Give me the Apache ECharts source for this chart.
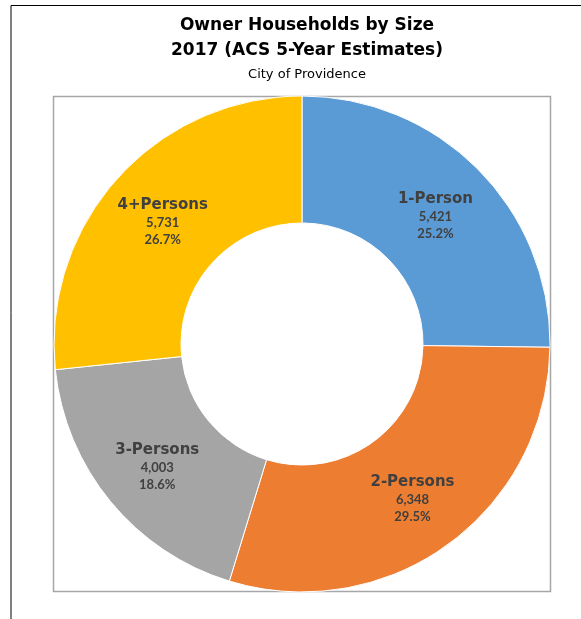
<!DOCTYPE html>
<html>
<head>
<meta charset="utf-8">
<style>
  html, body { margin: 0; padding: 0; background: #fff; }
  #chart { width: 581px; height: 619px; }
</style>
<script src="https://cdn.jsdelivr.net/npm/echarts@6/dist/echarts.min.js"></script>
</head>
<body>
<div id="chart"></div>
<script>
// Owner households by size, City of Providence (ACS 2017 5-year)
const categories = ['1-Person', '2-Persons', '3-Persons', '4+Persons'];
const households = [5421, 6348, 4003, 5731];
const sliceColors = ['#5B9BD5', '#ED7D31', '#A5A5A5', '#FFC000'];

const titleText = 'Owner Households by Size\n2017 (ACS 5-Year Estimates)';
const subtitleText = 'City of Providence';

const HEAD_FONT = '"DejaVu Sans", sans-serif';
const NUM_FONT = 'Lato, "DejaVu Sans", sans-serif';

const chart = echarts.init(document.getElementById('chart'), null, { renderer: 'canvas' });

const withCommas = v => String(v).replace(/\B(?=(\d{3})+(?!\d))/g, ',');

chart.setOption({
  animation: false,
  backgroundColor: '#ffffff',
  title: {
    text: titleText,
    subtext: subtitleText,
    left: 302,
    textAlign: 'center',
    top: 8,
    itemGap: 5,
    textStyle: { fontFamily: HEAD_FONT, fontSize: 17, fontWeight: 'bold', color: '#000', lineHeight: 25 },
    subtextStyle: { fontFamily: HEAD_FONT, fontSize: 13, color: '#000' }
  },
  graphic: [
    // outer frame (left and top edges)
    { type: 'polyline', shape: { points: [[11, 619], [11, 5.5], [581, 5.5]] },
      style: { stroke: '#000', lineWidth: 1, fill: null }, silent: true },
    // plot area box
    { type: 'rect', shape: { x: 53.5, y: 96.5, width: 497, height: 495 },
      style: { stroke: '#a6a6a6', lineWidth: 1.5, fill: null }, z: -1, silent: true }
  ],
  series: [{
    type: 'pie',
    center: [302, 344],
    radius: [121, 248],
    startAngle: 90,
    clockwise: true,
    percentPrecision: 1,
    itemStyle: { borderColor: '#ffffff', borderWidth: 1 },
    label: {
      show: true,
      position: 'inside',
      padding: [8, 0, 0, 0],
      formatter: p => '{n|' + p.name + '}\n{v|' + withCommas(p.value) + '}\n{v|' + p.percent.toFixed(1) + '%}',
      rich: {
        n: { fontFamily: HEAD_FONT, fontSize: 15, fontWeight: 'bold', color: '#404040', lineHeight: 18 },
        v: { fontFamily: NUM_FONT, fontSize: 13, fontWeight: 'bold', color: '#404040', lineHeight: 17 }
      }
    },
    labelLine: { show: false },
    emphasis: { disabled: true },
    data: categories.map((c, i) => ({ name: c, value: households[i], itemStyle: { color: sliceColors[i] } }))
  }]
});
</script>
</body>
</html>
